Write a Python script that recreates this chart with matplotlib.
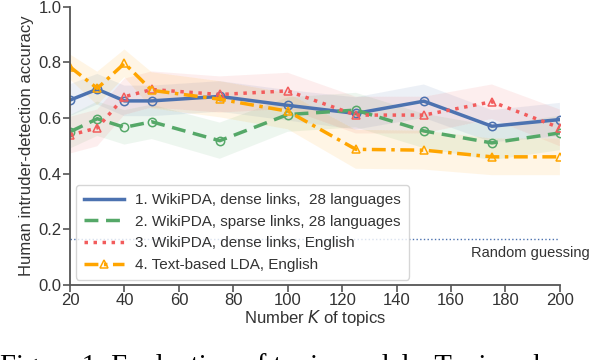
import numpy as np
import matplotlib.pyplot as plt
from matplotlib.lines import Line2D

K = [20, 30, 40, 50, 75, 100, 125, 150, 175, 200]

dense_28 = [0.665, 0.704, 0.662, 0.662, 0.678, 0.646, 0.617, 0.661, 0.571, 0.595]
sparse_28 = [0.551, 0.598, 0.567, 0.587, 0.519, 0.613, 0.629, 0.554, 0.511, 0.547]
dense_en = [0.539, 0.565, 0.677, 0.703, 0.685, 0.698, 0.611, 0.611, 0.659, 0.565]
lda_en = [0.784, 0.707, 0.797, 0.700, 0.668, 0.625, 0.488, 0.485, 0.461, 0.461]

# half widths of the shaded bands
err_dense_28 = [0.057, 0.055, 0.055, 0.055, 0.055, 0.055, 0.058, 0.060, 0.058, 0.060]
err_sparse_28 = [0.060, 0.062, 0.062, 0.062, 0.065, 0.062, 0.062, 0.062, 0.062, 0.062]
err_dense_en = [0.066, 0.066, 0.065, 0.065, 0.065, 0.065, 0.066, 0.066, 0.062, 0.066]
err_lda_en = [0.045, 0.060, 0.050, 0.065, 0.065, 0.065, 0.070, 0.070, 0.066, 0.066]

labels = ['1. WikiPDA, dense links,  28 languages',
          '2. WikiPDA, sparse links, 28 languages',
          '3. WikiPDA, dense links, English',
          '4. Text-based LDA, English']
random_guess = 1 / 6

plt.rcParams['font.family'] = ['Liberation Sans', 'DejaVu Sans']

fig = plt.figure(figsize=(6.04, 3.6), dpi=100)
ax = fig.add_axes([0.116, 0.208, 0.811, 0.773])

series = [
    (dense_28, err_dense_28, '#4C72B0', '-', 'o'),
    (sparse_28, err_sparse_28, '#55A868', (0, (4, 2.2)), 'o'),
    (dense_en, err_dense_en, '#F25C5C', (0, (1, 1.6)), '^'),
    (lda_en, err_lda_en, '#FFA500', (0, (4, 1.6, 1, 1.6)), '^'),
]
x = np.array(K)
handles = []
for i, ((vals, err, col, ls, mk), lab) in enumerate(zip(series, labels)):
    v = np.array(vals)
    e = np.array(err)
    ax.fill_between(x, v - e, v + e, color=col, alpha=0.1, linewidth=0.8,
                    linestyle=':', edgecolor='white')
    ax.plot(x, v, color=col, linestyle=ls, linewidth=2.5, marker=mk,
            markersize=6, markerfacecolor='none', markeredgewidth=1.1)
    # only the last legend entry shows its marker in the original
    handles.append(Line2D([], [], color=col, linestyle=ls, linewidth=2.5,
                          marker=mk if i == 3 else None, markersize=6,
                          markerfacecolor='none', markeredgewidth=1.1, label=lab))

ax.axhline(random_guess, color='#4C72B0', linestyle=':', linewidth=1)
ax.text(211, 0.115, 'Random guessing', ha='right', va='center', fontsize=10.5,
        color='#333333')

ax.set_xlim(20, 200)
ax.set_ylim(0, 1.0)
ax.set_xticks(range(20, 201, 20))
ax.set_yticks(np.arange(0, 1.01, 0.2))
ax.set_xlabel('Number $K$ of topics', fontsize=12, color='#333333', labelpad=0)
ax.set_ylabel('Human intruder-detection accuracy', fontsize=12, color='#333333',
              labelpad=3)
for s in ['top', 'right']:
    ax.spines[s].set_visible(False)
for s in ['left', 'bottom']:
    ax.spines[s].set_color('#555555')
    ax.spines[s].set_linewidth(1.3)
ax.tick_params(labelsize=12, colors='#555555', labelcolor='#333333',
               length=5, width=1.2, pad=1)

leg = ax.legend(handles=handles, loc='lower left', bbox_to_anchor=(0.013, 0.02),
                borderaxespad=0, fontsize=11, frameon=True, handlelength=2.6,
                handletextpad=0.75, borderpad=0.5, labelspacing=0.5)
leg.get_frame().set_edgecolor('#cccccc')
for t in leg.get_texts():
    t.set_color('#333333')

fig.text(0.0, -0.04, 'Figure 1: Evaluation of topic models. Topic coherence',
         family='Liberation Serif', fontsize=20.6, va='baseline', ha='left')

plt.savefig('out.png', dpi=100)
